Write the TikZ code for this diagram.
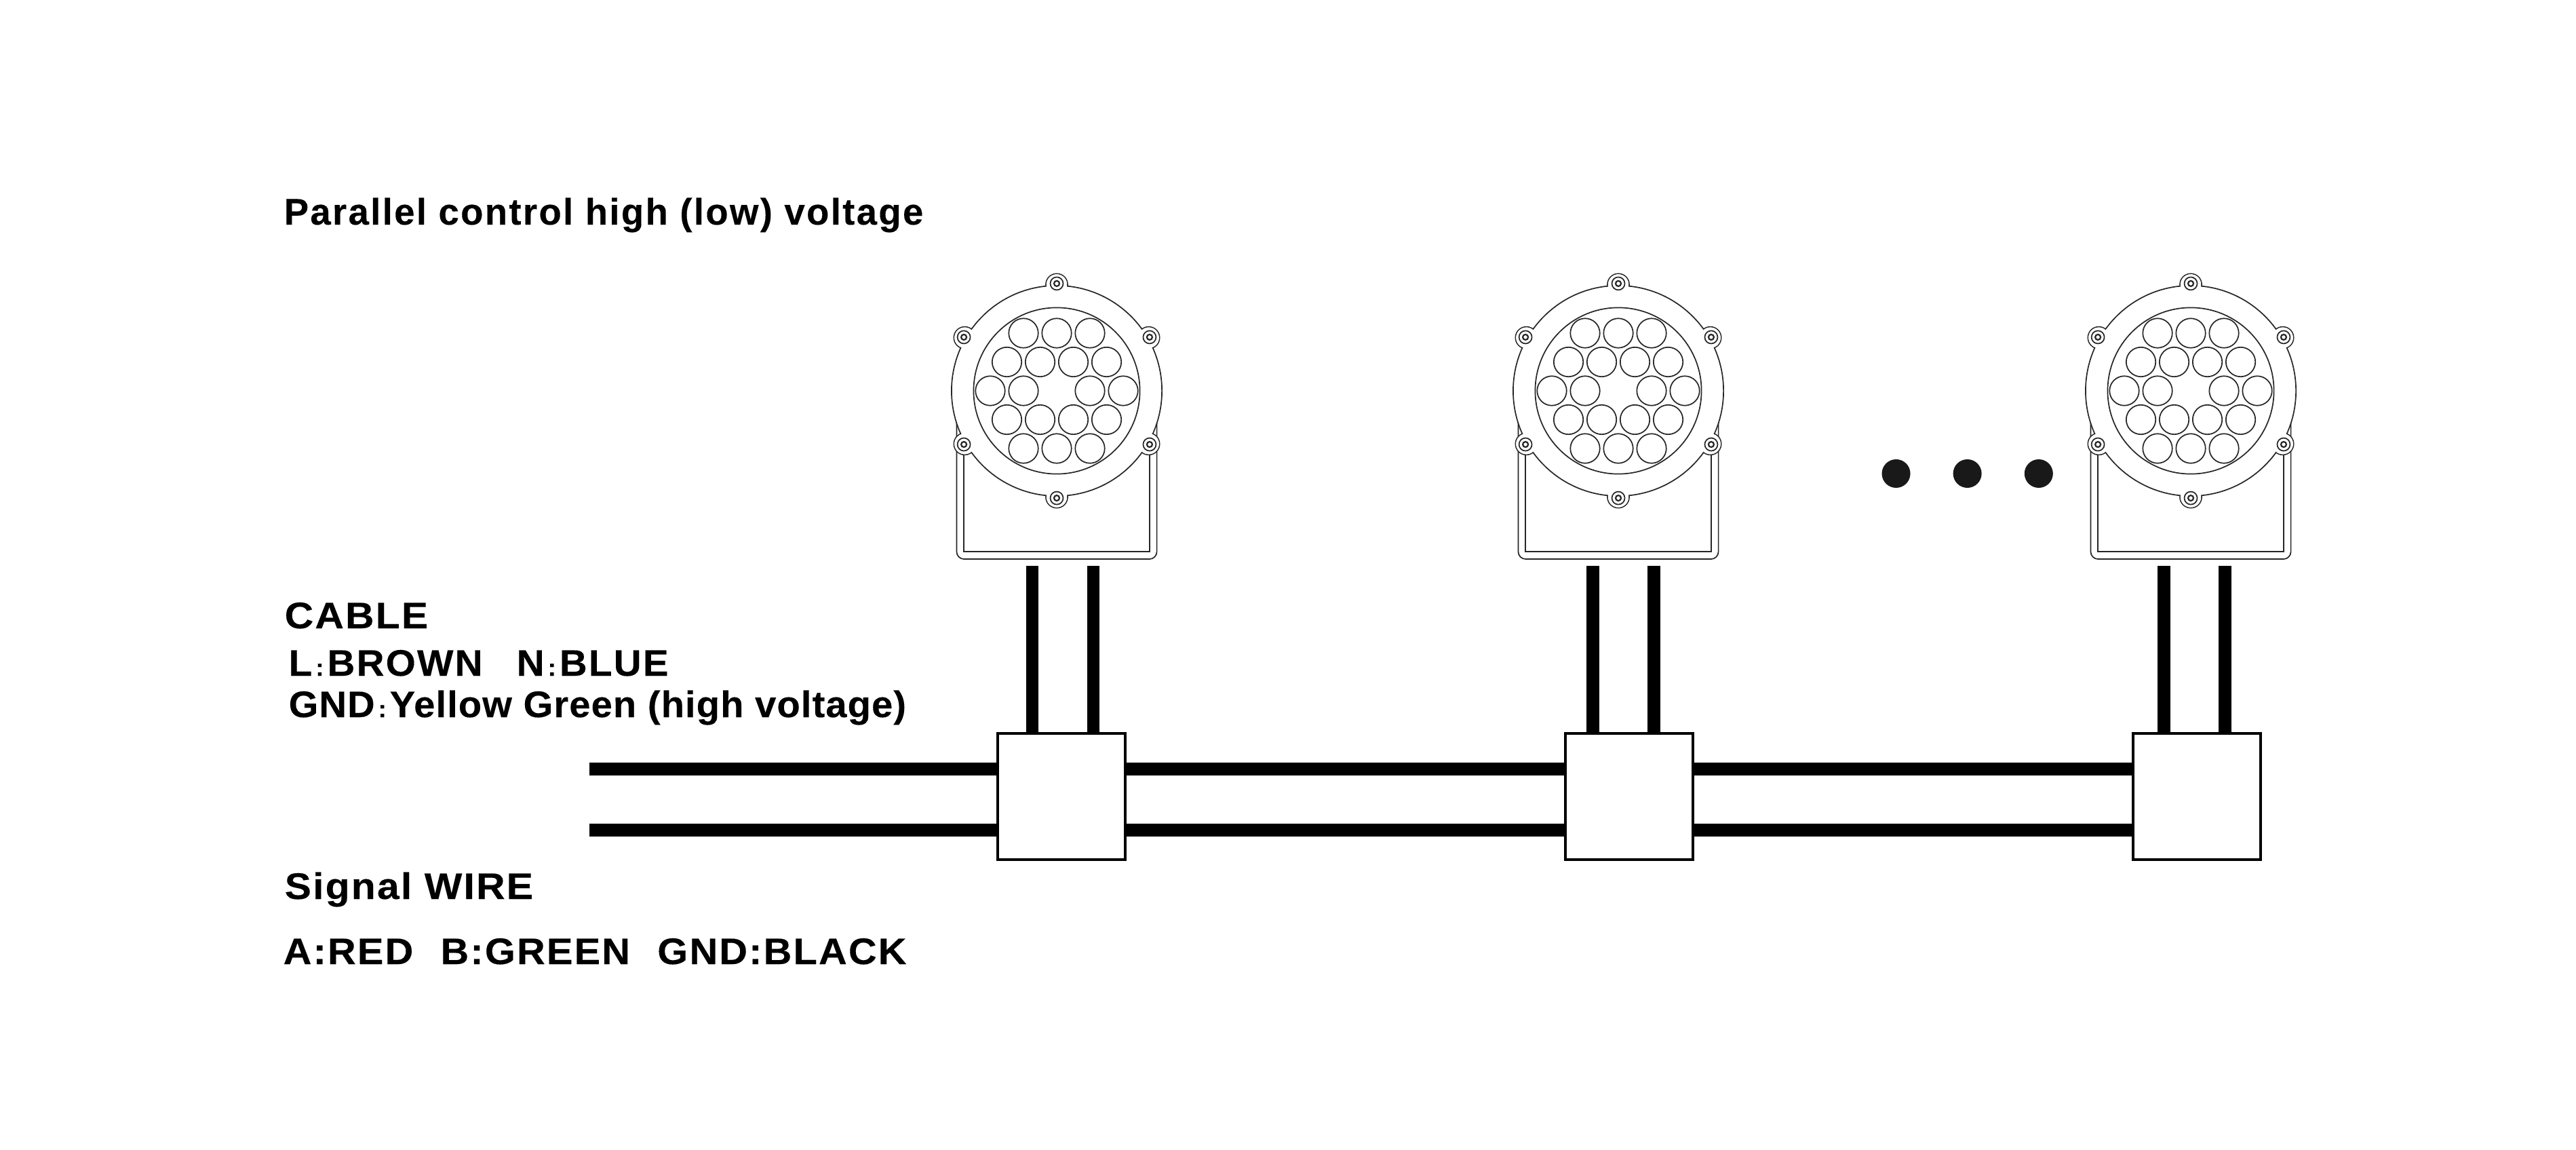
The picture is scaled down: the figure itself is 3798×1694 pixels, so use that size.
\documentclass[tikz,border=0pt]{standalone}
\usepackage{fontspec}
\setmainfont{Liberation Sans}
\usetikzlibrary{positioning}
\newcommand{\smallcolon}{{\fontsize{10}{10}\selectfont\hspace{0.05cm}:\hspace{0.05cm}}}
\tikzset{
    outline/.style={draw=black!85,line width=0.017cm},
    cable/.style={line width=0.185cm,black},
    junction/.style={draw,fill=white,line width=0.04cm,minimum width=1.88cm,minimum height=1.855cm,inner sep=0},
    blackdot/.style={circle,fill=black!90,minimum size=0.42cm,inner sep=0},
    caption/.style={anchor=base west,inner sep=0,font=\bfseries\fontsize{15.5}{18}\selectfont},
    pics/lamp/.style={code={
        \node[outline,rounded corners=0.11cm,minimum width=2.95cm,minimum height=2.18cm] (body) at (0,139) {};
        \node[outline,minimum width=2.734cm,minimum height=2.07cm] (bodyin) at (0,133.5) {};
        \foreach \a in {30,90,150,210,270,330}
            \draw[outline,fill=white] (\a:1.565cm) circle[radius=0.16cm];
        \draw[outline,fill=white] (0,0) circle[radius=1.55cm];
        \foreach \a in {30,90,150,210,270,330} {
            \fill[white] (\a:1.565cm) circle[radius=0.152cm];
            \draw[outline] (\a:1.58cm) circle[radius=0.095cm];
            \draw[draw=black!85,line width=0.022cm] (\a:1.58cm) circle[radius=0.04cm];
        }
        \draw[outline] (0,0) circle[radius=1.225cm];
        \foreach \x/\y in {-49/-85,0/-85,49/-85,
            -73.5/-42.5,-24.5/-42.5,24.5/-42.5,73.5/-42.5,
            -98/0,-49/0,49/0,98/0,
            -73.5/42.5,-24.5/42.5,24.5/42.5,73.5/42.5,
            -49/85,0/85,49/85}
            \draw[outline] (\x,\y) circle[radius=0.217cm];
    }}
}
\begin{document}
\begin{tikzpicture}[x=0.01cm,y=-0.01cm]
    \useasboundingbox (0,0) rectangle (3798,1694);

    \node[caption] (title) at (418,331) {\addfontfeatures{LetterSpace=4.3,FakeBold=0.2}Parallel control high (low) voltage};
    \node[caption] (cablehead) at (419,926) {\addfontfeatures{LetterSpace=4,FakeStretch=1.08,FakeBold=0.2}CABLE};
    \node[caption] (cablecol) at (425,996) {\addfontfeatures{LetterSpace=4,FakeStretch=1.04,FakeBold=0.2}L\smallcolon BROWN\hspace{0.5cm}N\smallcolon BLUE};
    \node[caption] (cablegnd) at (425,1057) {\addfontfeatures{LetterSpace=2,FakeStretch=1.03,FakeBold=0.2}GND\smallcolon Yellow Green (high voltage)};
    \node[caption] (signalhead) at (419,1325) {\addfontfeatures{LetterSpace=4,FakeStretch=1.08,FakeBold=0.2}Signal WIRE};
    \node[caption] (signalcol) at (417,1421) {\addfontfeatures{LetterSpace=4,FakeStretch=1.06,FakeBold=0.2}A:RED\hspace{0.22cm} B:GREEN\hspace{0.22cm} GND:BLACK};

    \pic (lampa) at (1558,576) {lamp};
    \pic (lampb) at (2386,576) {lamp};
    \pic (lampc) at (3230,576) {lamp};

    \foreach \x [count=\i] in {2795.5,2900.6,3005.8}
        \node[blackdot] (dot\i) at (\x,698) {};

    \node[junction] (boxa) at (1565,1174.2) {};
    \node[junction] (boxb) at (2401.8,1174.2) {};
    \node[junction] (boxc) at (3238.7,1174.2) {};

    % wires coming from the left
    \coordinate (wireup) at (869,1133.5);
    \coordinate (wiredown) at (869,1223.5);
    \foreach \w in {wireup,wiredown} {
        \draw[cable] (\w) -- (\w -| boxa.west);
        \draw[cable] (boxa.east |- \w) -- (boxb.west |- \w);
        \draw[cable] (boxb.east |- \w) -- (boxc.west |- \w);
    }

    % cables from each lamp down to its box
    \coordinate (cablea1) at (1522,834);
    \coordinate (cablea2) at (1612,834);
    \coordinate (cableb1) at (2348.3,834);
    \coordinate (cableb2) at (2438.3,834);
    \coordinate (cablec1) at (3190.6,834);
    \coordinate (cablec2) at (3280.6,834);
    \foreach \c in {a,b,c} {
        \draw[cable] (cable\c1) -- (cable\c1 |- box\c.north);
        \draw[cable] (cable\c2) -- (cable\c2 |- box\c.north);
    }
\end{tikzpicture}
\end{document}
